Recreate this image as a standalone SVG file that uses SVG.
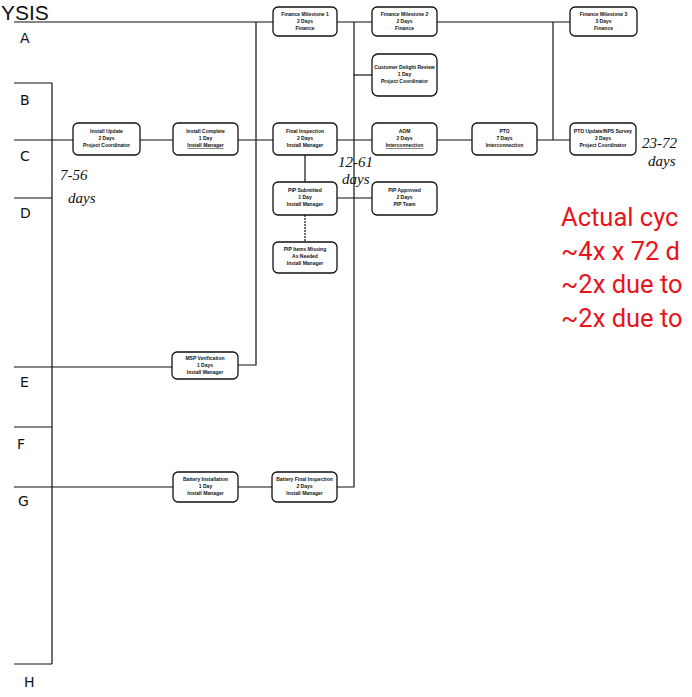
<svg xmlns="http://www.w3.org/2000/svg" width="692" height="697" viewBox="0 0 692 697">
<style>
.n rect{fill:#fff;stroke:#111;stroke-width:1.3}
.n text{font-family:"Liberation Sans",Arial,sans-serif;font-size:5px;font-weight:bold;fill:#111;text-anchor:middle}
.c line,.c polyline{stroke:#111;stroke-width:1.2;fill:none}
.lane{font-family:"DejaVu Sans",sans-serif;font-size:14px;fill:#111}
.hw{font-family:"Liberation Serif",serif;font-style:italic;font-size:15px;fill:#111}
.red{font-family:Roboto,"Liberation Sans",sans-serif;font-size:25.5px;fill:#e8141c}
</style>
<rect width="692" height="697" fill="#fff"/>
<text x="1" y="19.5" font-family="Liberation Sans,Arial,sans-serif" font-size="21" fill="#111">YSIS</text>
<g class="c">
<line x1="14" y1="22" x2="273" y2="22"/>
<line x1="337" y1="22" x2="372" y2="22"/>
<line x1="437" y1="22" x2="570" y2="22"/>
<line x1="14" y1="83" x2="52" y2="83"/>
<line x1="52" y1="83" x2="52" y2="664"/>
<line x1="14" y1="140" x2="73" y2="140"/>
<line x1="140" y1="140" x2="173" y2="140"/>
<line x1="238" y1="140" x2="273" y2="140"/>
<line x1="337" y1="140" x2="372" y2="140"/>
<line x1="437" y1="140" x2="472" y2="140"/>
<line x1="537" y1="140" x2="570" y2="140"/>
<line x1="14" y1="198" x2="52" y2="198"/>
<line x1="14" y1="367" x2="172" y2="367"/>
<line x1="14" y1="427" x2="52" y2="427"/>
<line x1="14" y1="487" x2="173" y2="487"/>
<line x1="238" y1="487" x2="272" y2="487"/>
<line x1="14" y1="664" x2="52" y2="664"/>
<polyline points="238,365 256,365 256,22"/>
<polyline points="337,487 354,487 354,22"/>
<line x1="354" y1="75" x2="372" y2="75"/>
<line x1="553" y1="22" x2="553" y2="140"/>
<line x1="305" y1="155" x2="305" y2="182"/>
<line x1="305" y1="215" x2="305" y2="242" stroke-dasharray="2,1"/>
<line x1="337" y1="198" x2="372" y2="198"/>
</g>
<g id="fm1" class="n"><rect x="273" y="7" width="64" height="29" rx="5"/><text x="305" y="16">Finance Milestone 1</text><text x="305" y="23">2 Days</text><text x="305" y="30">Finance</text></g>
<g id="fm2" class="n"><rect x="372" y="7" width="65" height="29" rx="5"/><text x="404.5" y="16">Finance Milestone 2</text><text x="404.5" y="23">2 Days</text><text x="404.5" y="30">Finance</text></g>
<g id="fm3" class="n"><rect x="570" y="7" width="67" height="29" rx="5"/><text x="603.5" y="16">Finance Milestone 3</text><text x="603.5" y="23">3 Days</text><text x="603.5" y="30">Finance</text></g>
<g id="cdr" class="n"><rect x="372" y="54" width="65" height="42" rx="6"/><text x="404.5" y="69">Customer Delight Review</text><text x="404.5" y="76">1 Day</text><text x="404.5" y="83">Project Coordinator</text></g>
<g id="iu" class="n"><rect x="73" y="123" width="67" height="32" rx="5"/><text x="106.5" y="133">Install Update</text><text x="106.5" y="140">2 Days</text><text x="106.5" y="147">Project Coordinator</text></g>
<g id="ic" class="n"><rect x="173" y="123" width="65" height="32" rx="5"/><text x="205.5" y="133">Install Complete</text><text x="205.5" y="140">1 Day</text><text x="205.5" y="147" text-decoration="underline">Install Manager</text></g>
<g id="fi" class="n"><rect x="273" y="123" width="64" height="32" rx="5"/><text x="305" y="133">Final Inspection</text><text x="305" y="140">2 Days</text><text x="305" y="147">Install Manager</text></g>
<g id="aom" class="n"><rect x="372" y="123" width="65" height="32" rx="5"/><text x="404.5" y="133">AOM</text><text x="404.5" y="140">2 Days</text><text x="404.5" y="147" text-decoration="underline">Interconnection</text></g>
<g id="pto" class="n"><rect x="472" y="123" width="65" height="32" rx="5"/><text x="504.5" y="133">PTO</text><text x="504.5" y="140">7 Days</text><text x="504.5" y="147">Interconnection</text></g>
<g id="ptou" class="n"><rect x="570" y="123" width="66" height="32" rx="5"/><text x="603" y="133">PTO Update/NPS Survey</text><text x="603" y="140">2 Days</text><text x="603" y="147">Project Coordinator</text></g>
<g id="pips" class="n"><rect x="273" y="182" width="64" height="33" rx="5"/><text x="305" y="192">PIP Submitted</text><text x="305" y="199">1 Day</text><text x="305" y="206">Install Manager</text></g>
<g id="pipa" class="n"><rect x="372" y="182" width="65" height="33" rx="5"/><text x="404.5" y="192">PIP Approved</text><text x="404.5" y="199">2 Days</text><text x="404.5" y="206">PIP Team</text></g>
<g id="pipm" class="n"><rect x="273" y="242" width="64" height="31" rx="5"/><text x="305" y="251">PIP Items Missing</text><text x="305" y="258">As Needed</text><text x="305" y="265">Install Manager</text></g>
<g id="msp" class="n"><rect x="172" y="352" width="66" height="27" rx="5"/><text x="205" y="360">MSP Verification</text><text x="205" y="367">1 Days</text><text x="205" y="374">Install Manager</text></g>
<g id="bi" class="n"><rect x="173" y="472" width="65" height="30" rx="5"/><text x="205.5" y="481">Battery Installation</text><text x="205.5" y="488">1 Day</text><text x="205.5" y="495">Install Manager</text></g>
<g id="bfi" class="n"><rect x="272" y="472" width="65" height="30" rx="5"/><text x="304.5" y="481">Battery Final Inspection</text><text x="304.5" y="488">2 Days</text><text x="304.5" y="495">Install Manager</text></g>
<text class="lane" x="20" y="43">A</text>
<text class="lane" x="20" y="105">B</text>
<text class="lane" x="20" y="161">C</text>
<text class="lane" x="20" y="218">D</text>
<text class="lane" x="20" y="387">E</text>
<text class="lane" x="17" y="449">F</text>
<text class="lane" x="18" y="506">G</text>
<text class="lane" x="24" y="687">H</text>
<text class="hw" x="60" y="180">7-56</text>
<text class="hw" x="68" y="203">days</text>
<text class="hw" x="338" y="167">12-61</text>
<text class="hw" x="342" y="184">days</text>
<text class="hw" x="642" y="148">23-72</text>
<text class="hw" x="648" y="166">days</text>
<text class="red" x="561" y="226">Actual cyc</text>
<text class="red" x="561" y="260">~4x x 72 d</text>
<text class="red" x="561" y="293">~2x due to</text>
<text class="red" x="561" y="327">~2x due to</text>
</svg>
